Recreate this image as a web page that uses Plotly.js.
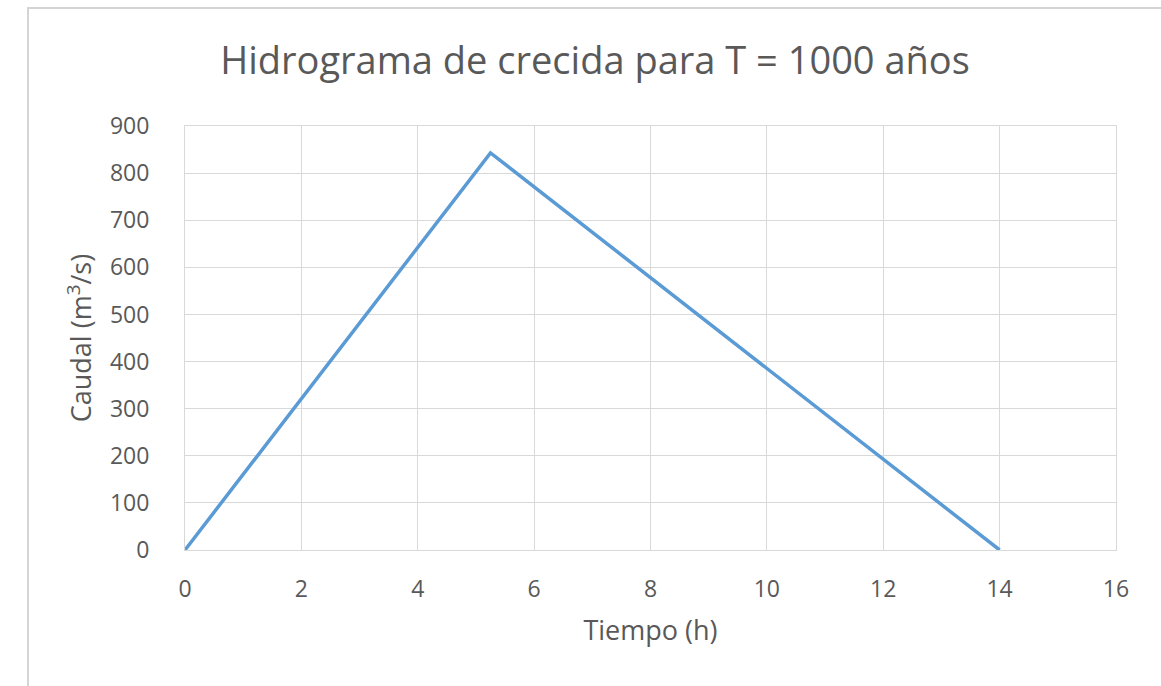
<!DOCTYPE html>
<html>
<head>
<meta charset="utf-8">
<script src="https://cdn.plot.ly/plotly-3.0.1.min.js"></script>
<style>
html,body{margin:0;padding:0;background:#fff;width:1161px;height:686px;overflow:hidden;}
#frame{position:absolute;left:27px;top:7px;width:1134px;height:679px;border-left:2px solid #d4d4d4;border-top:2px solid #d4d4d4;box-sizing:border-box;}
#chart{position:absolute;left:0;top:0;width:1132px;height:677px;}
</style>
</head>
<body>
<div id="frame"><div id="chart"></div></div>
<script>
const tiempo = [0, 5.25, 14];
const caudal = [0, 843, 0];
const xTicks = [0, 2, 4, 6, 8, 10, 12, 14, 16];
const yTicks = [0, 100, 200, 300, 400, 500, 600, 700, 800, 900];

const font = "'Open Sans', 'Noto Sans', sans-serif";
const txt = '#595959';
const grid = '#d9d9d9';

Plotly.newPlot('chart', [{
  x: tiempo, y: caudal, type: 'scatter', mode: 'lines',
  line: {color: '#5b9bd5', width: 3.5}, hoverinfo: 'x+y'
}], {
  width: 1132, height: 677,
  margin: {l: 156, r: 45, t: 117, b: 136},
  paper_bgcolor: '#fff', plot_bgcolor: '#fff',
  showlegend: false,
  font: {family: font, color: txt},
  title: {text: 'Hidrograma de crecida para T = 1000 años', font: {family: font, size: 38, color: txt}, x: 0.5, xanchor: 'center', y: 0.923, yanchor: 'middle'},
  xaxis: {
    range: [0, 16], tickvals: xTicks, ticktext: xTicks.map(String),
    showgrid: true, gridcolor: grid, gridwidth: 1, zeroline: false,
    showline: true, linecolor: grid, linewidth: 1, mirror: true,
    ticks: '', ticklen: 0, tickfont: {size: 23, color: txt}, ticklabelstandoff: 18,
    title: {text: 'Tiempo (h)', font: {size: 27, color: txt}, standoff: 18}
  },
  yaxis: {
    range: [0, 900], tickvals: yTicks, ticktext: yTicks.map(String),
    showgrid: true, gridcolor: grid, gridwidth: 1, zeroline: false,
    showline: true, linecolor: grid, linewidth: 1, mirror: true,
    ticks: '', ticklen: 0, tickfont: {size: 23, color: txt}, ticklabelstandoff: 30,
    title: {text: 'Caudal (m<sup>3</sup>/s)', font: {size: 27, color: txt}, standoff: 10}
  }
}, {displayModeBar: false, staticPlot: true});
</script>
</body>
</html>
